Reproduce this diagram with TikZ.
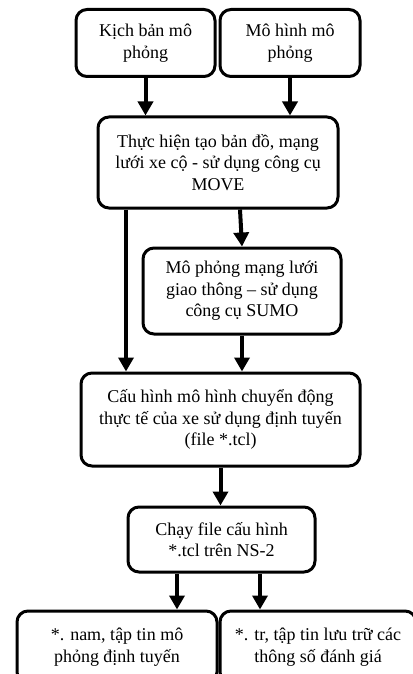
\documentclass[tikz,border=0pt]{standalone}
\usepackage{fontspec}
\setmainfont{Liberation Serif}
\usetikzlibrary{arrows.meta}
\usetikzlibrary{positioning}
\begin{document}
\begin{tikzpicture}[x=1pt,y=-1pt]
		
		\tikzset{box/.style = {shape=rectangle,draw,line width=3pt,rounded corners=11pt,inner sep=0pt,align=center,font=\fontsize{18}{21.5}\selectfont}}
		\tikzset{edge/.style = {line width=4pt,-{Triangle[width=15pt,length=14pt]}}}
		\useasboundingbox (0,0) rectangle (412,674);
		% boxes
		\node[box, minimum width=139pt, minimum height=67pt] (a) at (145.5,43) {Kịch bản mô\\ phỏng};
		\node[box, minimum width=140pt, minimum height=67pt] (b) at (290,43) {Mô hình mô\\ phỏng};
		\node[box, minimum width=240pt, minimum height=91pt] (c) at (218,162.5) {Thực hiện tạo bản đồ, mạng\\ lưới xe cộ - sử dụng công cụ\\ MOVE};
		\node[box, minimum width=198pt, minimum height=86pt] (d) at (242,291) {Mô phỏng mạng lưới\\ giao thông – sử dụng\\ công cụ SUMO};
		\node[box, minimum width=279pt, minimum height=93pt] (e) at (220.5,419.5) {Cấu hình mô hình chuyển động\\ thực tế của xe sử dụng định tuyến\\ (file *.tcl)};
		\node[box, minimum width=187pt, minimum height=65pt] (f) at (221.5,539.5) {Chạy file cấu hình\\ *.tcl trên NS-2};
		\node[box, minimum width=200pt, minimum height=72pt] (g) at (117,647) {*. nam, tập tin mô\\ phỏng định tuyến};
		\node[box, minimum width=196pt, minimum height=72pt] (h) at (318,647) {*. tr, tập tin lưu trữ các\\ thông số đánh giá};
		
		% edges
		\draw[edge] (a.south) -- (a.south |- c.north);
		\draw[edge] (b.south) -- (b.south |- c.north);
		\draw[edge] ([xshift=-92pt]c.south) -- ([xshift=-92pt]c.south |- e.north);
		\draw[edge] ([xshift=22pt]c.south) -- (d.north);
		\draw[edge] (d.south) -- (d.south |- e.north);
		\draw[edge] (e.south) -- (e.south |- f.north);
		\draw[edge] ([xshift=-44.5pt]f.south) -- ([xshift=-44.5pt]f.south |- g.north);
		\draw[edge] ([xshift=38.5pt]f.south) -- ([xshift=38.5pt]f.south |- h.north);
		
\end{tikzpicture}
\end{document}
